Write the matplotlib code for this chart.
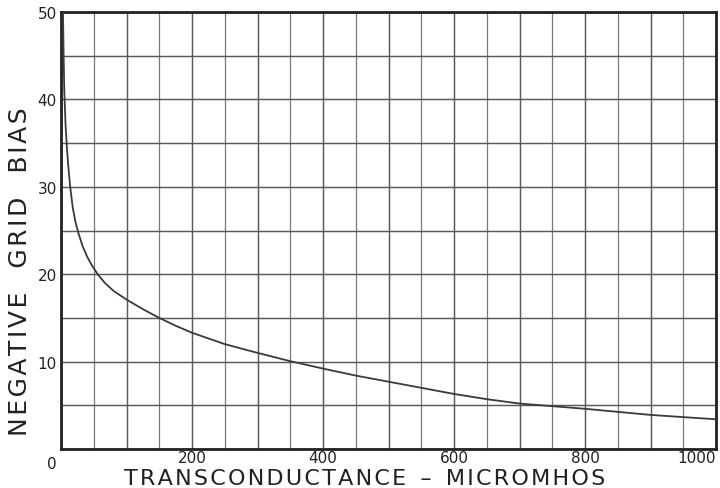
import matplotlib
matplotlib.use("Agg")
import matplotlib.pyplot as plt

# Data
transconductance = [3, 4, 5, 7, 9, 11, 14, 18, 22, 27, 33, 40, 48, 57, 67, 80, 100, 125, 150, 175, 200,
                    250, 300, 350, 400, 450, 500, 550, 600, 650, 700, 750, 800, 850, 900, 950, 1000]
neg_grid_bias = [50, 45, 41, 37, 34.5, 32.5, 30.0, 27.6, 26.0, 24.6, 23.2, 22.0, 20.9, 19.9, 19.0, 18.1, 17.1, 16.0, 15.0, 14.1, 13.3,
                 12, 11, 10.05, 9.2, 8.4, 7.7, 7.0, 6.3, 5.7, 5.2, 4.9, 4.6, 4.25, 3.9, 3.65, 3.4]
x_ticks = [0, 200, 400, 600, 800, 1000]
y_ticks = [10, 20, 30, 40, 50]

fig = plt.figure(figsize=(7.2, 4.89), dpi=100)
ax = fig.add_axes([61/720, 39/489, 655/720, 437/489])

ax.plot(transconductance, neg_grid_bias, color="#3a3a3a", lw=1.3, zorder=3)

ax.set_xlim(0, 1000)
ax.set_ylim(0, 50)
ax.set_xticks(range(0, 1001, 100))
ax.set_xticks(range(50, 1000, 100), minor=True)
ax.set_yticks(range(0, 51, 5))
ax.grid(True, which="major", color="#5a5a5a", lw=1.05)
ax.grid(True, which="minor", axis="x", color="#7a7a7a", lw=0.9)
ax.set_xticklabels([str(v) if v in x_ticks and v != 0 else "" for v in range(0, 1001, 100)])
ax.set_yticklabels([str(v) if v in y_ticks else "" for v in range(0, 51, 5)])
labs = ax.get_xticklabels()
labs[-1].set_horizontalalignment("right")
ax.tick_params(which="both", length=0, labelsize=11, colors="#222222")
ax.tick_params(axis="x", pad=1)
ax.tick_params(axis="y", pad=3)
for s in ax.spines.values():
    s.set_linewidth(2.0)
    s.set_color("#222222")

ax.text(-0.006, -0.015, "0", transform=ax.transAxes, ha="right", va="top", fontsize=11, color="#222222")

hs = "\u200a"
xl = hs.join("TRANSCONDUCTANCE") + "  \u2013  " + hs.join("MICROMHOS")
yl = hs.join("NEGATIVE") + "   " + hs.join("GRID") + "   " + hs.join("BIAS")
fig.text(365/720, 1 - 479/489, xl, ha="center", va="center",
         fontsize=16, color="#222222", family="DejaVu Sans")
fig.text(20/720, 1 - 272/489, yl, ha="center", va="center", rotation=90,
         fontsize=18, color="#222222", family="DejaVu Sans")

fig.savefig("out.png", dpi=100)
